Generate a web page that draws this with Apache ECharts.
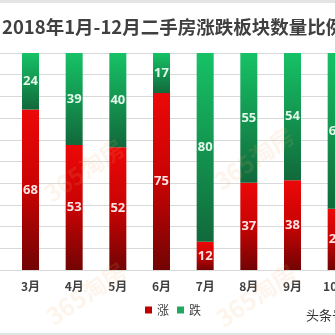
<!DOCTYPE html>
<html><head><meta charset="utf-8">
<script src="https://cdn.jsdelivr.net/npm/echarts@6/dist/echarts.min.js"></script>
<style>html,body{margin:0;padding:0;background:#fff;overflow:hidden;width:335px;height:335px}#c{width:430px;height:335px;margin-left:-35px}</style>
</head><body><div id="c"></div>
<script>
const titleText = '2018年1月-12月二手房涨跌板块数量比例';
const categories = ['2月','3月','4月','5月','6月','7月','8月','9月','10月'];
const riseValues = [null, 68, 53, 52, 75, 12, 37, 38, 26];
const fallValues = [null, 24, 39, 40, 17, 80, 55, 54, 66];
const seriesNames = ['涨','跌'];
const yMax = 92;
const OFF = 35;

const chart = echarts.init(document.getElementById('c'), null, {renderer:'canvas'});
const redGrad = new echarts.graphic.LinearGradient(0,0,0,1,[{offset:0,color:'#ec0808'},{offset:0.5,color:'#c80303'},{offset:1,color:'#720404'}]);
const greenGrad = new echarts.graphic.LinearGradient(0,0,0,1,[{offset:0,color:'#16c266'},{offset:1,color:'#11693b'}]);
const wm = (x,y)=>({type:'text',left:x+OFF,top:y,rotation:0.6,silent:true,z:100,
  style:{text:'365淘房',fill:'rgba(240,170,110,0.13)',font:'bold 24px "Noto Sans CJK SC", sans-serif'}});
chart.setOption({
  animation:false,
  backgroundColor:'#fff',
  title:{text:titleText,left:-3+OFF,top:13,textStyle:{fontFamily:'"Noto Sans CJK SC", sans-serif',fontSize:18.5,fontWeight:'bold',color:'#404040'}},
  grid:{left:0,width:393,top:53,bottom:65,containLabel:false},
  legend:{bottom:14,left:140+OFF,itemWidth:7,itemHeight:7,itemGap:8,icon:'rect',
    textStyle:{fontFamily:'"Noto Sans CJK SC", sans-serif',fontSize:12,color:'#404040'},
    data:[{name:seriesNames[0],itemStyle:{color:'#c00000'}},{name:seriesNames[1],itemStyle:{color:'#22a85c'}}]},
  xAxis:{type:'category',data:categories,axisTick:{show:false},
    axisLine:{lineStyle:{color:'#d9d9d9'}},
    axisLabel:{margin:10,fontFamily:'"Noto Sans CJK SC", sans-serif',fontSize:12,fontWeight:'bold',color:'#404040'}},
  yAxis:{type:'value',min:0,max:yMax,interval:yMax/10,axisLabel:{show:false},axisLine:{show:false},axisTick:{show:false},
    splitLine:{lineStyle:{color:'#d9d9d9',width:1}}},
  series:[
    {name:seriesNames[0],type:'bar',stack:'a',barWidth:17,data:riseValues,itemStyle:{color:redGrad},
      label:{show:true,position:'inside',color:'#fbe3e3',fontSize:13,fontWeight:'bold',fontFamily:'"Open Sans", sans-serif'}},
    {name:seriesNames[1],type:'bar',stack:'a',barWidth:17,data:fallValues,itemStyle:{color:greenGrad},
      label:{show:true,position:'inside',color:'#e2f7ea',fontSize:13,fontWeight:'bold',fontFamily:'"Open Sans", sans-serif'}}
  ],
  graphic:[
    {type:'rect',shape:{x:0,y:0,width:430,height:3},style:{fill:'#e4e4e4'},silent:true},
    {type:'rect',shape:{x:0,y:333,width:430,height:2},style:{fill:'#e4e4e4'},silent:true},
    {type:'text',left:306+OFF,top:309,style:{text:'头条号',fill:'#333',font:'13px "Noto Sans CJK SC", sans-serif'}},
    wm(40,135),wm(42,258),wm(210,123),wm(212,260)
  ]
});
</script></body></html>
